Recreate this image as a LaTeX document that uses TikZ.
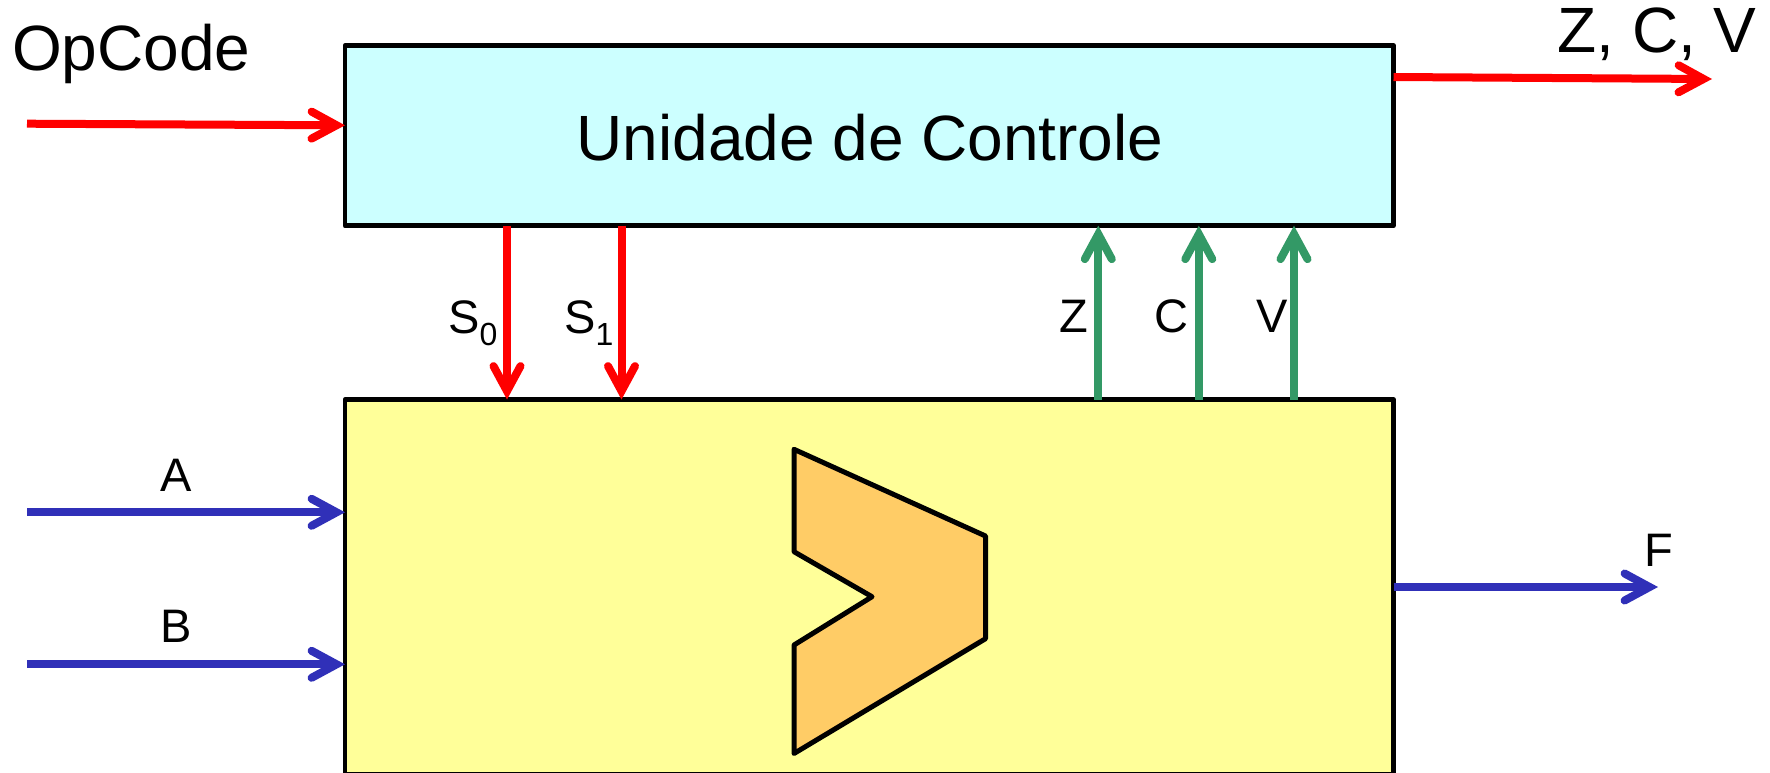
\documentclass[tikz,border=0pt]{standalone}
\usepackage{fontspec}
\setmainfont{Liberation Sans}
\usetikzlibrary{arrows.meta}
\definecolor{sigred}{HTML}{FF0000}
\definecolor{siggreen}{HTML}{339966}
\definecolor{sigblue}{HTML}{3030B8}
\definecolor{ctrlfill}{HTML}{CCFFFF}
\definecolor{alufill}{HTML}{FFFF99}
\definecolor{muxfill}{HTML}{FFCC66}
\newcommand{\bigsize}{\fontsize{64}{70}\selectfont}
\newcommand{\smallsize}{\fontsize{47}{52}\selectfont}
\newcommand{\subsize}{\fontsize{32}{34}\selectfont}
\newcommand{\subtext}[1]{\raisebox{-12pt}{\subsize #1}}
\tikzset{
  x=1pt,y=-1pt,
  blockbox/.style={draw=black,line width=4.8pt,rectangle,inner sep=0pt,outer sep=0pt,line join=round},
  wire/.style={line width=8pt,-{Straight Barb[length=25pt,width=27pt,line width=8pt,line cap=round,line join=miter]}},
  redwire/.style={wire,color=sigred},
  greenwire/.style={wire,color=siggreen},
  bluewire/.style={wire,color=sigblue},
  biglabel/.style={anchor=base,font=\bigsize,inner sep=0pt},
  smalllabel/.style={anchor=base,font=\smallsize,inner sep=0pt},
}
\begin{document}
\begin{tikzpicture}
\useasboundingbox (0,0) rectangle (1770,772);
\clip (0,0) rectangle (1770,772);
\fill[white] (0,0) rectangle (1770,772);
% blocks
\node[blockbox,fill=ctrlfill,minimum width=1048.5pt,minimum height=180pt,anchor=north west] (ctrl) at (345,45.7) {};
\node[blockbox,fill=alufill,minimum width=1048.5pt,minimum height=375pt,anchor=north west] (alu) at (345,399.5) {};
% multiplexer symbol
\draw[line width=5pt,fill=muxfill,line join=round]
  (794,449.3) -- (985.5,536) -- (985.5,638.7) -- (794,753.5) -- (794,645) -- (872,596.7) -- (794,551.7) -- cycle;
% free ends
\coordinate (opin) at (27,123.7);
\coordinate (ain) at (27,512.3);
\coordinate (bin) at (27,664.3);
\coordinate (flagsout) at (1712,79);
\coordinate (fout) at (1658,587);
% control wires
\draw[redwire] (opin) -- ([yshift=10.4pt]ctrl.west);
\draw[redwire] ([yshift=58.7pt]ctrl.east) -- (flagsout);
\draw[redwire] (ctrl.south -| 507,0) -- (alu.north -| 507,0);
\draw[redwire] (ctrl.south -| 621.5,0) -- (alu.north -| 621.5,0);
% flags
\draw[greenwire] (alu.north -| 1098.3,0) -- (ctrl.south -| 1098.3,0);
\draw[greenwire] (alu.north -| 1198.8,0) -- (ctrl.south -| 1198.8,0);
\draw[greenwire] (alu.north -| 1294,0) -- (ctrl.south -| 1294,0);
% data
\draw[bluewire] (ain) -- (alu.west |- ain);
\draw[bluewire] (bin) -- (alu.west |- bin);
\draw[bluewire] (alu.east |- fout) -- (fout);
% labels
\node[biglabel,anchor=base west] (lblop) at (12,70) {OpCode};
\node[biglabel] (lblctrl) at (870,160) {Unidade de Controle};
\node[biglabel] (lblflags) at (1657,52) {Z, C, V};
\node[smalllabel,anchor=base west] (lbls0) at (448,333) {S\subtext{0}};
\node[smalllabel,anchor=base west] (lbls1) at (564,333) {S\subtext{1}};
\node[smalllabel] (lblz) at (1073.5,332) {Z};
\node[smalllabel] (lblc) at (1171.6,332) {C};
\node[smalllabel] (lblv) at (1272,332) {V};
\node[smalllabel] (lbla) at (176,491.7) {A};
\node[smalllabel] (lblb) at (176,642.7) {B};
\node[smalllabel] (lblf) at (1659,566) {F};
\end{tikzpicture}
\end{document}
